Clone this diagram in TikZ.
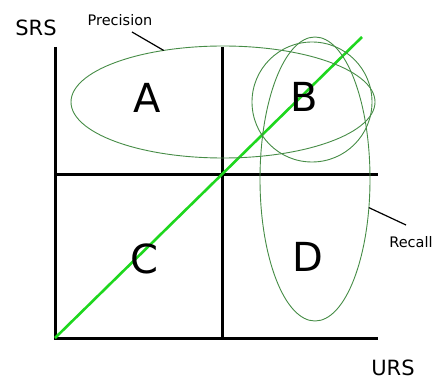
\documentclass[tikz,border=0pt]{standalone}
\usepackage{fontspec}
\setmainfont{DejaVu Sans}
\usepackage{tikz}
\usetikzlibrary{shapes.geometric}

\definecolor{diaggreen}{RGB}{30,215,30}
\definecolor{setgreen}{RGB}{70,140,70}

\begin{document}
\begin{tikzpicture}[
      x=1pt, y=1pt,
      axis/.style={line width=3pt, black},
      diag/.style={line width=2.6pt, diaggreen},
      setring/.style={ellipse, draw=setgreen, line width=0.9pt, inner sep=0pt, outer sep=0pt},
      callout/.style={line width=1.2pt, black},
      axlbl/.style={font=\fontsize{21}{25}\selectfont, inner sep=0pt},
      setlbl/.style={font=\fontsize{14.5}{17}\selectfont, inner sep=0pt},
      cell/.style={font=\fontsize{40}{46}\selectfont, inner sep=0pt}
  ]
  \useasboundingbox (0,0) rectangle (436,383);

  % axes and quadrants
  \coordinate (orig)  at (55,45);
  \coordinate (ytop)  at (55,336);
  \coordinate (xend)  at (378,45);
  \coordinate (midl)  at (55,208);
  \coordinate (midr)  at (378,208);
  \coordinate (midb)  at (222,45);
  \coordinate (midt)  at (222,336);
  \coordinate (diagend) at (362,346);
  \draw[axis] (ytop) -- (orig) -- (xend);
  \draw[axis] (midl) -- (midr);
  \draw[axis] (midb) -- (midt);
  \draw[diag] (orig) -- (diagend);

  % sets
  \node[setring, minimum width=304pt, minimum height=112pt] (prec) at (223,281) {};
  \node[setring, circle, minimum size=120pt] (both) at (312,281) {};
  \node[setring, minimum width=110pt, minimum height=284pt] (rec) at (315,204) {};

  % cells
  \node[cell] (cellA) at (147,285) {A};
  \node[cell] (cellB) at (304,286) {B};
  \node[cell] (cellC) at (144,124) {C};
  \node[cell] (cellD) at (308,126) {D};

  % labels
  \node[axlbl] (srs) at (36,355) {SRS};
  \node[axlbl] (urs) at (393,15) {URS};
  \node[setlbl] (preclbl) at (120,363) {Precision};
  \node[setlbl] (reclbl) at (411,141) {Recall};
  \coordinate (precfoot) at (132,351);
  \coordinate (recfoot) at (406,158);
  \draw[callout] (precfoot) -- (prec.139);
  \draw[callout] (recfoot) -- (rec.-28);
\end{tikzpicture}
\end{document}
